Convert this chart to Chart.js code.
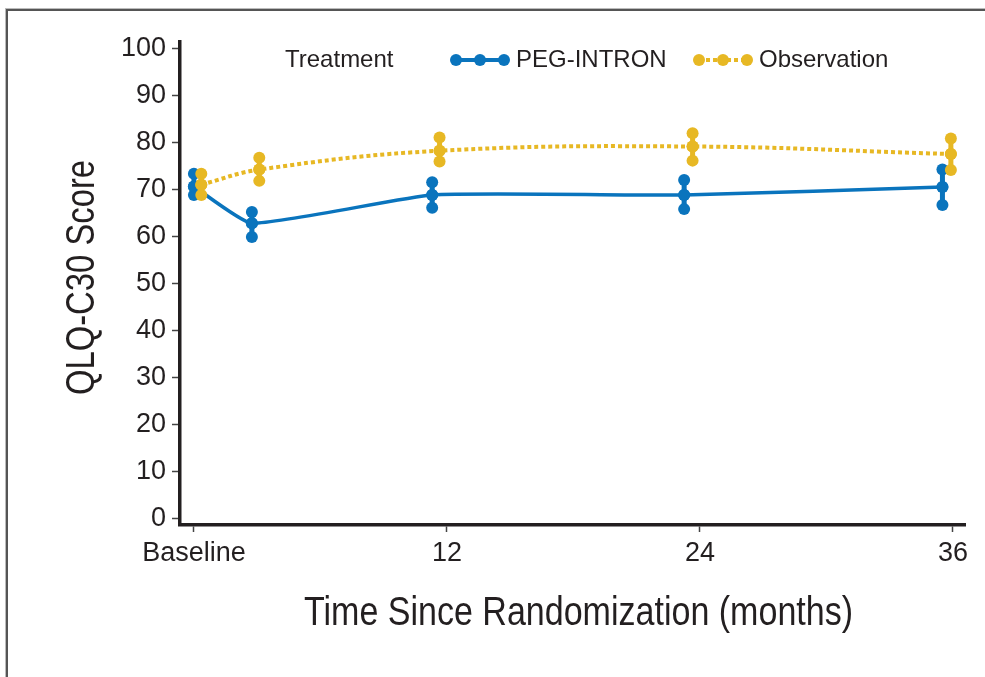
<!DOCTYPE html>
<html><head><meta charset="utf-8">
<script src="https://cdn.jsdelivr.net/npm/chart.js@4.4.0/dist/chart.umd.min.js"></script>
<style>
html,body{margin:0;padding:0;background:#fff;}
#wrap{position:relative;width:985px;height:677px;overflow:hidden;background:#fff;}
#frame{position:absolute;left:6px;top:9px;width:1000px;height:700px;border-left:2px solid #555;border-top:2px solid #555;box-shadow:-1px -1px 0 #bbb;}
canvas{position:absolute;left:0;top:0;}
</style></head><body>
<div id="wrap"><canvas id="c" width="985" height="677"></canvas><div id="frame"></div></div>
<script>
// ---- data ----
const tickMonths = [0, 12, 24, 36];
const tickLabels = ['Baseline', '12', '24', '36'];
const yTicks = [0, 10, 20, 30, 40, 50, 60, 70, 80, 90, 100];
const seriesNames = ['PEG-INTRON', 'Observation'];
const legendTitle = 'Treatment';
const xTitle = 'Time Since Randomization (months)';
const yTitle = 'QLQ-C30 Score';

const pegX    = [0, 2.75, 11.3, 23.25, 35.5];
const pegMean = [70.6, 62.8, 68.8, 68.8, 70.5];
const pegLow  = [68.8, 59.9, 66.1, 65.8, 66.7];
const pegHigh = [73.3, 65.2, 71.5, 72.0, 74.2];

const obsX    = [0.35, 3.1, 11.65, 23.65, 35.9];
const obsMean = [71.0, 74.2, 78.2, 79.1, 77.5];
const obsLow  = [68.8, 71.8, 75.9, 76.1, 74.1];
const obsHigh = [73.3, 76.7, 81.0, 81.9, 80.8];

const BLUE = '#0a74bd';
const YELLOW = '#e7b824';
const INK = '#231f20';
const SANS = '"Liberation Sans", Arial, Helvetica, sans-serif';

const toPts = (xs, ys) => xs.map((x, i) => ({x: x, y: ys[i]}));

const errorBars = {
  id: 'errorBars',
  afterDatasetDraw(chart, args) {
    const ds = chart.data.datasets[args.index];
    if (!ds.errLow) return;
    const ctx = chart.ctx, xs = chart.scales.x, ys = chart.scales.y;
    ctx.save();
    ctx.strokeStyle = ds.borderColor;
    ctx.fillStyle = ds.borderColor;
    ctx.lineWidth = 5;
    ds.data.forEach((p, j) => {
      const x = xs.getPixelForValue(p.x);
      const y1 = ys.getPixelForValue(ds.errLow[j]);
      const y2 = ys.getPixelForValue(ds.errHigh[j]);
      ctx.beginPath(); ctx.moveTo(x, y1); ctx.lineTo(x, y2); ctx.stroke();
      [y1, ys.getPixelForValue(p.y), y2].forEach(y => {
        ctx.beginPath(); ctx.arc(x, y, 6, 0, Math.PI * 2); ctx.fill();
      });
    });
    ctx.restore();
  }
};

const customLegend = {
  id: 'customLegend',
  afterDraw(chart) {
    const ctx = chart.ctx;
    const y = 60;
    ctx.save();
    ctx.font = '24px ' + SANS;
    ctx.fillStyle = INK;
    ctx.textBaseline = 'middle';
    ctx.textAlign = 'left';
    ctx.fillText(legendTitle, 285, y);
    const items = [
      {color: BLUE, dash: [], x0: 456, text: seriesNames[0], tx: 516},
      {color: YELLOW, dash: [4, 3], x0: 699, text: seriesNames[1], tx: 759}
    ];
    items.forEach(it => {
      ctx.strokeStyle = it.color; ctx.fillStyle = it.color;
      ctx.lineWidth = 4; ctx.setLineDash(it.dash);
      ctx.beginPath(); ctx.moveTo(it.x0, y); ctx.lineTo(it.x0 + 48, y); ctx.stroke();
      ctx.setLineDash([]);
      [0, 24, 48].forEach(d => { ctx.beginPath(); ctx.arc(it.x0 + d, y, 6, 0, Math.PI * 2); ctx.fill(); });
      ctx.fillStyle = INK;
      ctx.fillText(it.text, it.tx, y);
    });
    ctx.restore();
  }
};

// condensed axis titles (no condensed font installed, so squeeze Liberation Sans)
const axisTitles = {
  id: 'axisTitles',
  afterDraw(chart) {
    const ctx = chart.ctx, area = chart.chartArea;
    ctx.save();
    ctx.font = '41px ' + SANS;
    ctx.fillStyle = INK;
    ctx.textAlign = 'center';
    ctx.textBaseline = 'middle';
    ctx.save();
    ctx.translate((area.left + area.right) / 2 + 6, 614);
    ctx.scale(0.83, 1);
    ctx.fillText(xTitle, 0, 0);
    ctx.restore();
    ctx.save();
    ctx.translate(83, (area.top + area.bottom) / 2 - 6);
    ctx.rotate(-Math.PI / 2);
    ctx.scale(0.8, 1);
    ctx.fillText(yTitle, 0, 0);
    ctx.restore();
    ctx.restore();
  }
};

new Chart(document.getElementById('c'), {
  type: 'line',
  data: {
    datasets: [
      {
        label: seriesNames[1], data: toPts(obsX, obsMean), errLow: obsLow, errHigh: obsHigh,
        borderColor: YELLOW, backgroundColor: YELLOW, borderWidth: 4, borderDash: [4, 3],
        tension: 0.4, pointRadius: 6, pointBorderWidth: 0, pointBackgroundColor: YELLOW, fill: false
      },
      {
        label: seriesNames[0], data: toPts(pegX, pegMean), errLow: pegLow, errHigh: pegHigh,
        borderColor: BLUE, backgroundColor: BLUE, borderWidth: 3.5,
        tension: 0.15, pointRadius: 6, pointBorderWidth: 0, pointBackgroundColor: BLUE, fill: false
      }
    ]
  },
  options: {
    responsive: false,
    animation: false,
    devicePixelRatio: 1,
    layout: {padding: {left: 0, right: 20, top: 42, bottom: 0}},
    plugins: {legend: {display: false}, tooltip: {enabled: false}},
    scales: {
      x: {
        type: 'linear', min: -0.66, max: 36.57,
        afterBuildTicks: s => { s.ticks = tickMonths.map(v => ({value: v})); },
        afterFit: s => { s.height = 152; },
        ticks: {
          callback: v => tickLabels[tickMonths.indexOf(v)],
          font: {family: SANS, size: 27}, color: INK, padding: 5, maxRotation: 0, autoSkip: false
        },
        grid: {display: true, drawOnChartArea: false, drawTicks: true, tickLength: 7, tickWidth: 1.5, tickColor: '#444'},
        border: {display: true, width: 3.5, color: INK},
        title: {display: false, text: xTitle}
      },
      y: {
        type: 'linear', min: -1.3, max: 101.3,
        afterBuildTicks: s => { s.ticks = yTicks.map(v => ({value: v})); },
        afterFit: s => { s.width = 180; },
        ticks: {font: {family: SANS, size: 27}, color: INK, padding: 6},
        grid: {display: true, drawOnChartArea: false, drawTicks: true, tickLength: 8, tickWidth: 1.5, tickColor: '#444'},
        border: {display: true, width: 3.5, color: INK},
        title: {display: false, text: yTitle}
      }
    }
  },
  plugins: [errorBars, customLegend, axisTitles]
});
</script>
</body></html>
